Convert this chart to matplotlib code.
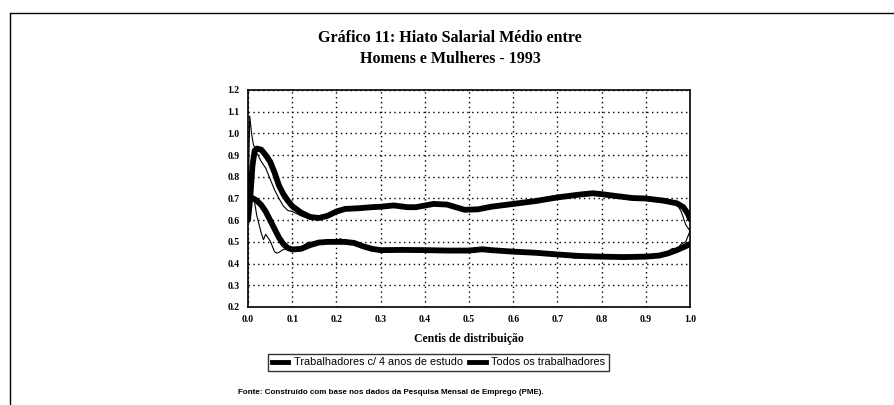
import numpy as np
import matplotlib
matplotlib.use('Agg')
import matplotlib.pyplot as plt
from matplotlib.lines import Line2D

# centis e hiato (curva suavizada, traço grosso)
centil_4anos = [0.0, 0.005, 0.01, 0.015, 0.02, 0.03, 0.04, 0.05, 0.06, 0.07, 0.08, 0.09, 0.10,
                0.12, 0.14, 0.16, 0.18, 0.20, 0.22, 0.25, 0.28, 0.30, 0.33, 0.36, 0.38, 0.42,
                0.45, 0.47, 0.49, 0.52, 0.55, 0.60, 0.65, 0.70, 0.75, 0.78, 0.80, 0.83, 0.87,
                0.90, 0.94, 0.97, 0.985, 0.995, 1.0]
hiato_4anos = [0.60, 0.70, 0.85, 0.92, 0.93, 0.925, 0.90, 0.87, 0.82, 0.76, 0.72, 0.69, 0.665,
               0.635, 0.615, 0.61, 0.62, 0.64, 0.652, 0.655, 0.66, 0.662, 0.668, 0.66, 0.66, 0.675,
               0.672, 0.66, 0.648, 0.65, 0.662, 0.675, 0.688, 0.705, 0.718, 0.724, 0.72, 0.712, 0.702,
               0.70, 0.69, 0.678, 0.66, 0.63, 0.605]

centil_todos = [0.0, 0.005, 0.012, 0.02, 0.03, 0.04, 0.05, 0.06, 0.07, 0.08, 0.09, 0.10, 0.12,
                0.14, 0.16, 0.18, 0.20, 0.22, 0.24, 0.26, 0.28, 0.30, 0.35, 0.40, 0.45, 0.50,
                0.53, 0.55, 0.60, 0.65, 0.70, 0.75, 0.80, 0.85, 0.90, 0.93, 0.95, 0.97, 0.99, 1.0]
hiato_todos = [0.68, 0.70, 0.70, 0.69, 0.67, 0.64, 0.60, 0.56, 0.52, 0.49, 0.472, 0.465, 0.468,
               0.485, 0.497, 0.50, 0.50, 0.50, 0.495, 0.48, 0.468, 0.462, 0.463, 0.462, 0.46, 0.46,
               0.466, 0.462, 0.455, 0.45, 0.442, 0.435, 0.432, 0.43, 0.432, 0.437, 0.447, 0.462, 0.48, 0.49]

# series brutas (traço fino)
centil_4anos_b = [0.0, 0.004, 0.008, 0.012, 0.02, 0.03, 0.04, 0.05, 0.06, 0.07, 0.08, 0.09, 0.10,
                  0.12, 0.14, 0.16, 0.18, 0.20, 0.22, 0.25, 0.28, 0.31, 0.34, 0.37, 0.40, 0.43,
                  0.46, 0.48, 0.50, 0.53, 0.57, 0.62, 0.67, 0.72, 0.76, 0.79, 0.82, 0.86, 0.90,
                  0.93, 0.95, 0.97, 0.98, 0.99, 1.0]
hiato_4anos_b = [0.68, 1.08, 1.00, 0.95, 0.91, 0.87, 0.84, 0.79, 0.74, 0.70, 0.665, 0.645, 0.64,
                 0.62, 0.605, 0.607, 0.625, 0.645, 0.648, 0.66, 0.655, 0.668, 0.664, 0.655, 0.67, 0.678,
                 0.668, 0.655, 0.64, 0.655, 0.665, 0.68, 0.692, 0.71, 0.72, 0.728, 0.715, 0.705, 0.698,
                 0.69, 0.685, 0.675, 0.64, 0.58, 0.55]

centil_todos_b = [0.0, 0.005, 0.01, 0.015, 0.02, 0.025, 0.03, 0.035, 0.04, 0.045, 0.05, 0.055,
                  0.06, 0.065, 0.07, 0.08, 0.09, 0.10, 0.12, 0.13, 0.14, 0.15, 0.17, 0.19, 0.21,
                  0.22, 0.24, 0.27, 0.30, 0.34, 0.38, 0.42, 0.46, 0.50, 0.54, 0.58, 0.62, 0.66,
                  0.70, 0.74, 0.78, 0.82, 0.86, 0.90, 0.93, 0.95, 0.96, 0.97, 0.98, 0.99, 1.0]
hiato_todos_b = [0.60, 0.66, 0.72, 0.68, 0.62, 0.58, 0.54, 0.51, 0.535, 0.52, 0.505, 0.48,
                 0.455, 0.448, 0.452, 0.465, 0.47, 0.468, 0.47, 0.49, 0.50, 0.485, 0.505, 0.50, 0.515,
                 0.49, 0.50, 0.472, 0.458, 0.468, 0.455, 0.465, 0.452, 0.47, 0.458, 0.462, 0.45, 0.455,
                 0.44, 0.425, 0.44, 0.428, 0.435, 0.43, 0.44, 0.455, 0.47, 0.465, 0.49, 0.50, 0.55]

fig = plt.figure(figsize=(8.95, 4.05), dpi=100)
ax = fig.add_axes([0.2771, 0.242, 0.4939, 0.5358])

ax.plot(centil_4anos_b, hiato_4anos_b, color='black', linewidth=0.8)
ax.plot(centil_todos_b, hiato_todos_b, color='black', linewidth=0.8)
ax.plot(centil_4anos, hiato_4anos, color='black', linewidth=4.2, solid_capstyle='round')
ax.plot(centil_todos, hiato_todos, color='black', linewidth=4.2, solid_capstyle='round')

ax.set_xlim(0, 1)
ax.set_ylim(0.2, 1.2)
ax.set_xticks(np.arange(0, 1.01, 0.1))
ax.set_yticks(np.arange(0.2, 1.21, 0.1))
ax.set_xticklabels([f'{v:.1f}' for v in np.arange(0, 1.01, 0.1)], fontsize=7, fontweight='bold', family='Liberation Serif')
ax.set_yticklabels([f'{v:.1f}' for v in np.arange(0.2, 1.21, 0.1)], fontsize=7, fontweight='bold', family='Liberation Serif')
ax.tick_params(length=0, pad=6)
ax.grid(True, color='black', linestyle=(0, (1, 2.5)), linewidth=1.0)
for s in ax.spines.values():
    s.set_linewidth(1.2)
ax.set_xlabel('Centis de distribuição', fontsize=8.5, fontweight='bold', family='Liberation Serif', labelpad=6)

fig.text(0.503, 0.906, 'Gráfico 11: Hiato Salarial Médio entre', ha='center', va='center',
         fontsize=11.5, fontweight='bold', family='Liberation Serif')
fig.text(0.503, 0.854, 'Homens e Mulheres - 1993', ha='center', va='center',
         fontsize=11.5, fontweight='bold', family='Liberation Serif')

handles = [Line2D([], [], color='black', linewidth=3.5),
           Line2D([], [], color='black', linewidth=3.5)]
leg = fig.legend(handles, ['Trabalhadores c/ 4 anos de estudo', 'Todos os trabalhadores'],
                 loc='center', bbox_to_anchor=(0.49, 0.105), ncol=2, frameon=True, fancybox=False,
                 prop={'family': 'Liberation Sans', 'size': 7.8}, handlelength=1.5, handletextpad=0.5,
                 columnspacing=0.6, borderpad=0.35)
leg.get_frame().set_edgecolor('black')
leg.get_frame().set_linewidth(1.0)

fig.text(0.437, 0.032, 'Fonte: Construído com base nos dados da Pesquisa Mensal de Emprego (PME).',
         ha='center', va='center', fontsize=5.8, fontweight='bold', family='Liberation Sans')

# moldura da pagina
fig.add_artist(Line2D([0.012, 1.0], [0.968, 0.968], color='black', linewidth=1.0, transform=fig.transFigure))
fig.add_artist(Line2D([0.011, 0.011], [0.968, 0.0], color='black', linewidth=1.0, transform=fig.transFigure))

fig.savefig('out.png', dpi=100)
